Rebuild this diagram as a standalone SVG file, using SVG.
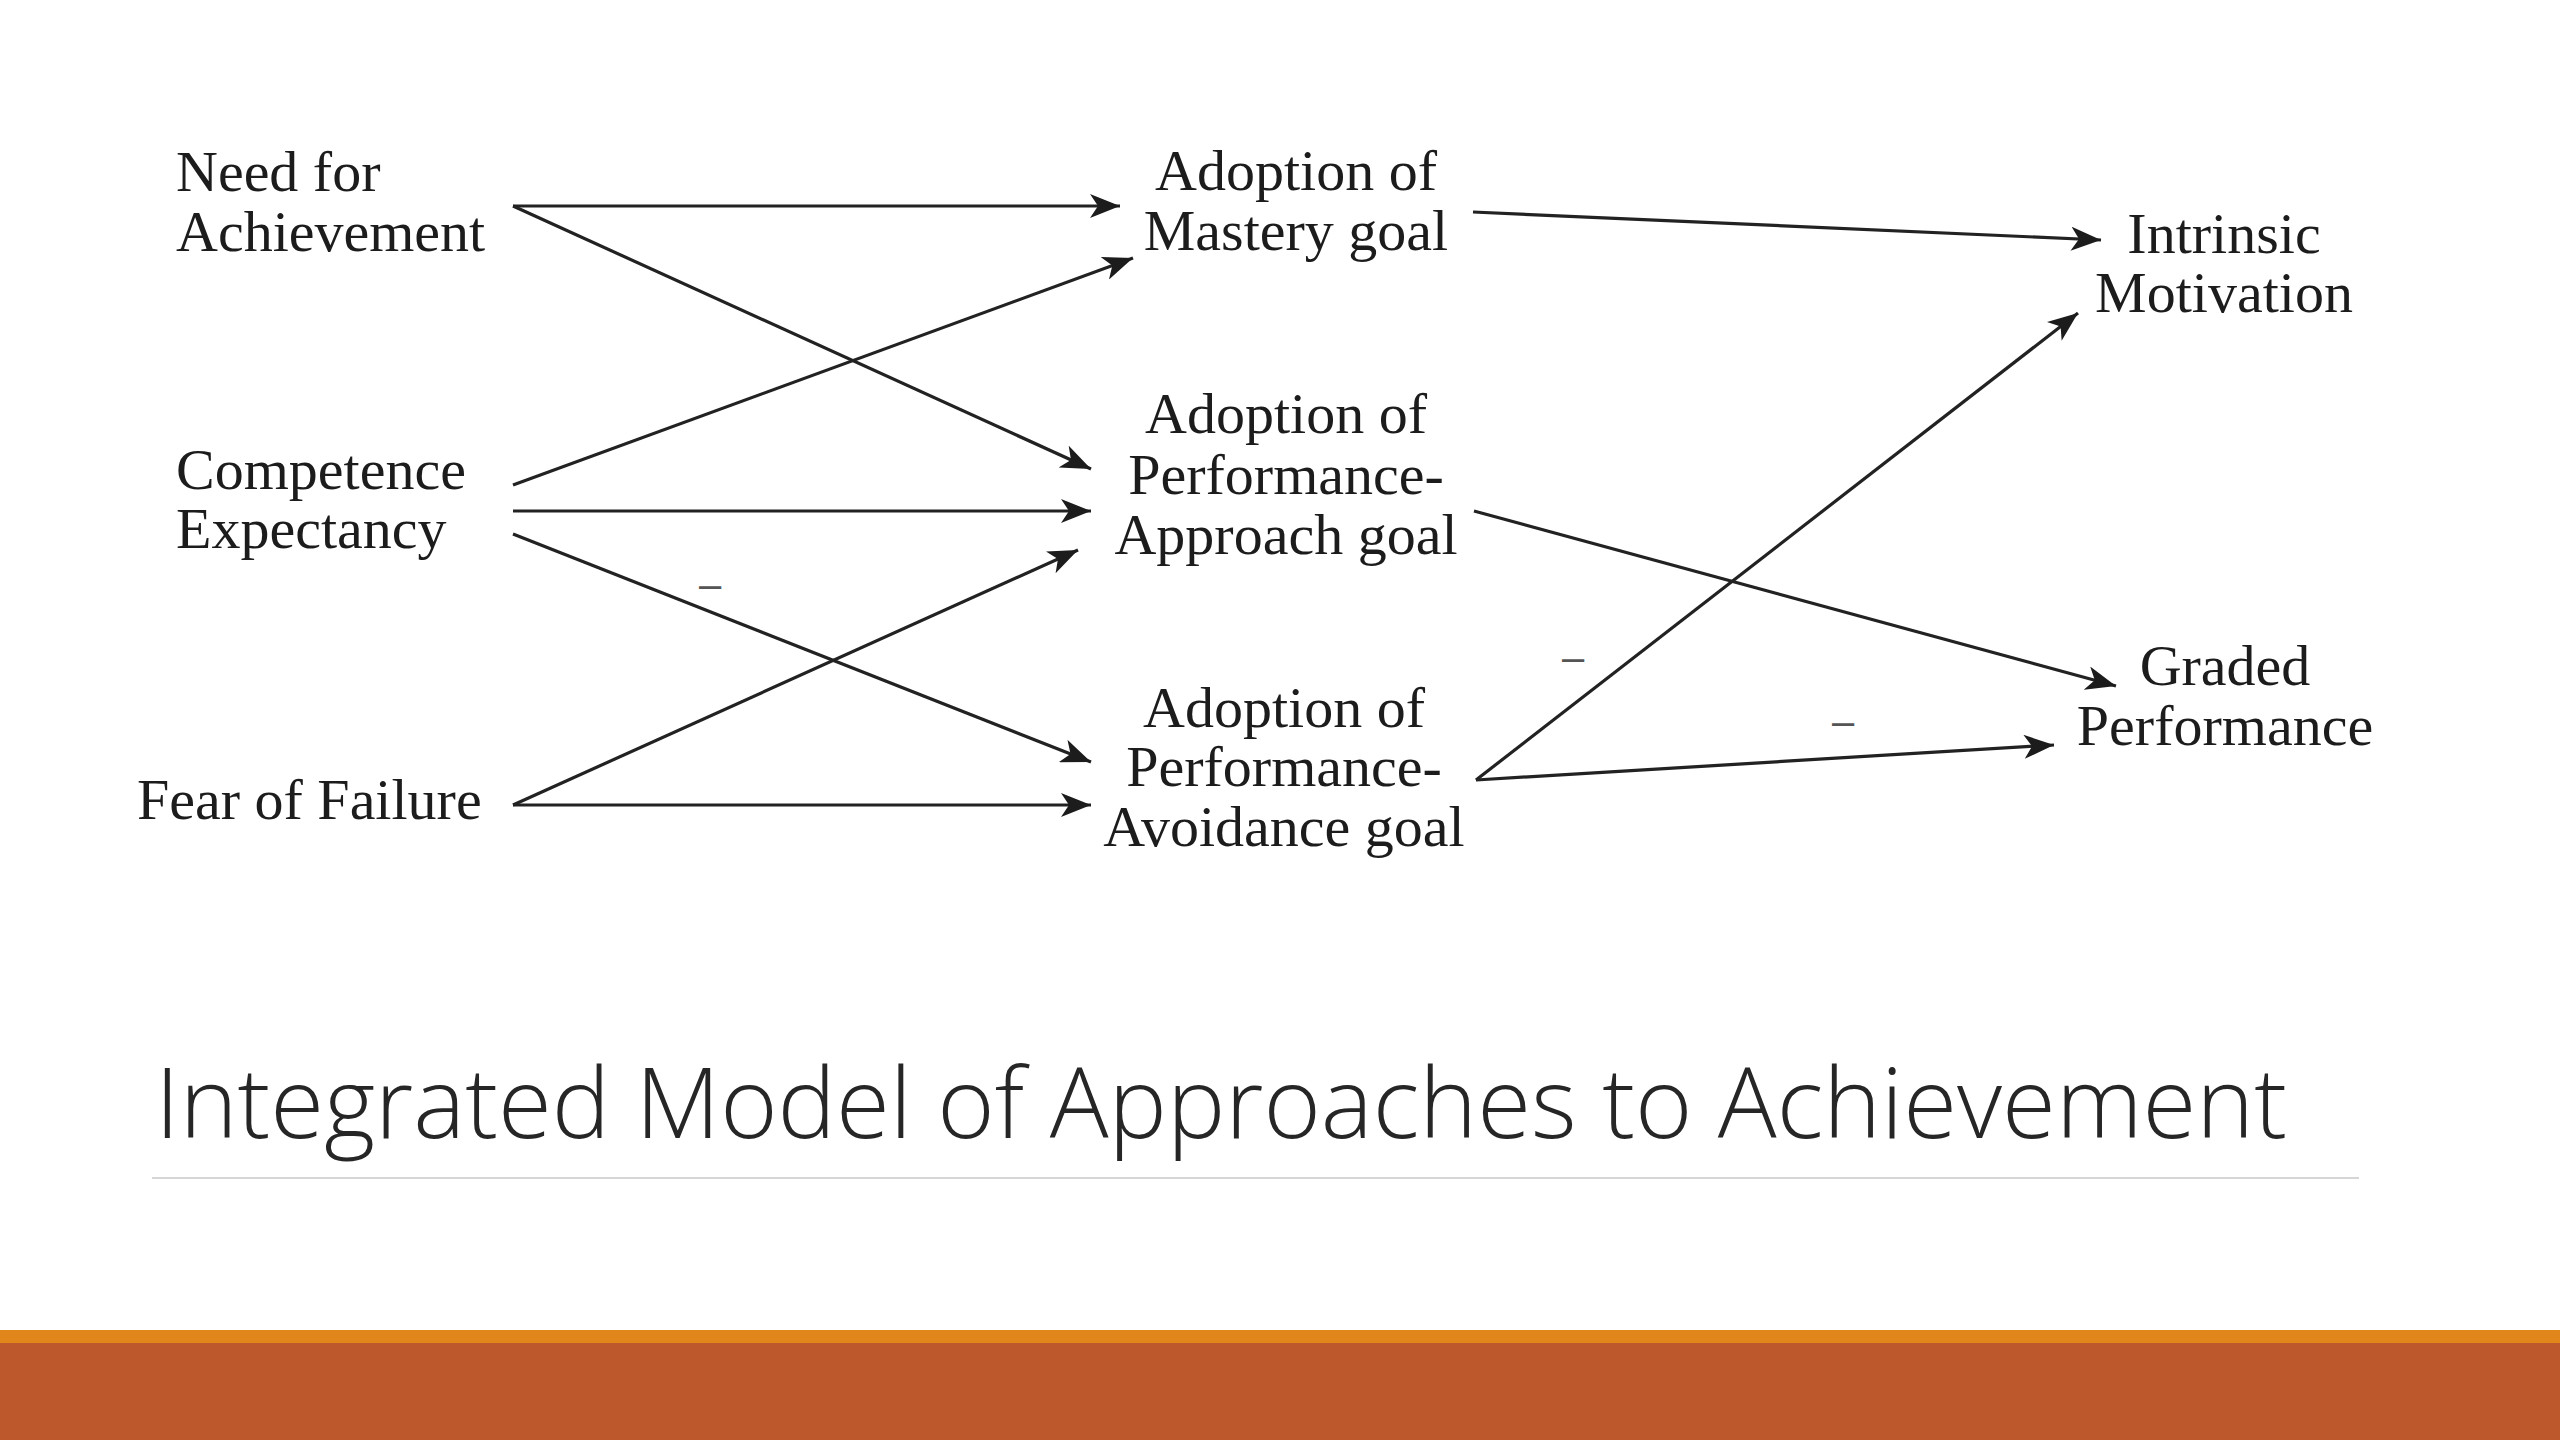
<svg xmlns="http://www.w3.org/2000/svg" width="2560" height="1440" viewBox="0 0 2560 1440">
<style>
.t{font-family:"Liberation Serif","Times New Roman",serif;font-size:58px;fill:#1c1c1c}
.m{text-anchor:middle}
.c{stroke:#222;stroke-width:3.2;fill:none;marker-end:url(#ah)}
.neg{font-family:"Liberation Sans",Arial,sans-serif;font-size:40px;fill:#555;text-anchor:middle}
.title{font-family:"Open Sans","Noto Sans",sans-serif;font-weight:300;font-size:98px;fill:#262626}
</style>
<defs>
<marker id="ah" markerUnits="userSpaceOnUse" markerWidth="32" markerHeight="24" refX="30" refY="12" orient="auto" viewBox="0 0 32 24">
<path d="M0,0 L30,12 L0,24 L8,12 z" fill="#1c1c1c"/>
</marker>
</defs>
<rect width="2560" height="1440" fill="#ffffff"/>
<g id="connectors">
<line class="c" x1="513" y1="206" x2="1120" y2="206"/>
<line class="c" x1="513" y1="206" x2="1091" y2="469"/>
<line class="c" x1="513" y1="485" x2="1133" y2="258"/>
<line class="c" x1="513" y1="511" x2="1091" y2="511"/>
<line class="c" x1="513" y1="534" x2="1091" y2="762"/>
<line class="c" x1="513" y1="805" x2="1078" y2="550"/>
<line class="c" x1="513" y1="805" x2="1091" y2="805"/>
<line class="c" x1="1473" y1="212" x2="2101" y2="240"/>
<line class="c" x1="1476" y1="780" x2="2078" y2="313"/>
<line class="c" x1="1474" y1="511" x2="2116" y2="686"/>
<line class="c" x1="1476" y1="780" x2="2054" y2="745"/>
<text class="neg" x="710" y="598">–</text>
<text class="neg" x="1573" y="671">–</text>
<text class="neg" x="1843" y="735">–</text>
</g>
<g id="need-for-achievement">
<text class="t" x="176" y="191">Need for</text>
<text class="t" x="176" y="251">Achievement</text>
</g>
<g id="competence-expectancy">
<text class="t" x="176" y="489">Competence</text>
<text class="t" x="176" y="548">Expectancy</text>
</g>
<g id="fear-of-failure">
<text class="t" x="137" y="819">Fear of Failure</text>
</g>
<g id="mastery-goal">
<text class="t m" x="1296" y="190">Adoption of</text>
<text class="t m" x="1296" y="250">Mastery goal</text>
</g>
<g id="approach-goal">
<text class="t m" x="1286" y="433">Adoption of</text>
<text class="t m" x="1286" y="494">Performance-</text>
<text class="t m" x="1286" y="554">Approach goal</text>
</g>
<g id="avoidance-goal">
<text class="t m" x="1284" y="727">Adoption of</text>
<text class="t m" x="1284" y="786">Performance-</text>
<text class="t m" x="1284" y="846">Avoidance goal</text>
</g>
<g id="intrinsic-motivation">
<text class="t m" x="2224" y="253">Intrinsic</text>
<text class="t m" x="2224" y="312">Motivation</text>
</g>
<g id="graded-performance">
<text class="t m" x="2225" y="685">Graded</text>
<text class="t m" x="2225" y="745">Performance</text>
</g>
<g id="title">
<text class="title" x="155" y="1138">Integrated Model of Approaches to Achievement</text>
<line x1="152" y1="1178" x2="2359" y2="1178" stroke="#d6d6d6" stroke-width="2"/>
</g>
<g id="footer">
<rect x="0" y="1330" width="2560" height="13" fill="#E0861A"/>
<rect x="0" y="1343" width="2560" height="97" fill="#BD582C"/>
</g>
</svg>
